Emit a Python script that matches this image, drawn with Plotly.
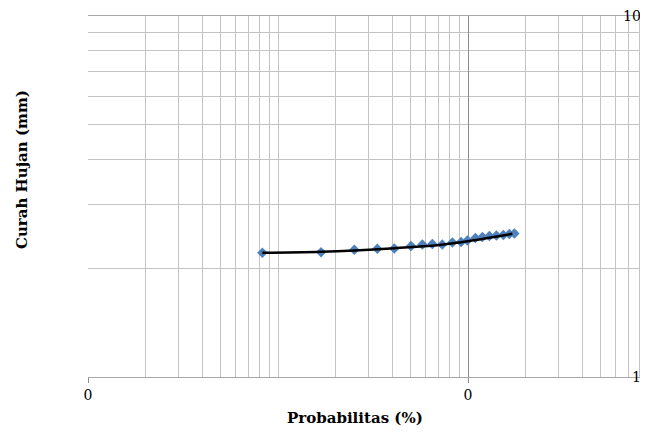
import math
import plotly.graph_objects as go

# Observed data (blue diamonds)
prob = [0.00827, 0.01684, 0.02521, 0.0333, 0.0409, 0.0501, 0.0575, 0.0649, 0.0732,
        0.0827, 0.0919, 0.0992, 0.1093, 0.119, 0.1295, 0.141, 0.1534, 0.165, 0.1753]
rain = [2.208, 2.217, 2.251, 2.265, 2.270, 2.306, 2.328, 2.335, 2.328,
        2.358, 2.366, 2.388, 2.427, 2.443, 2.458, 2.466, 2.474, 2.490, 2.498]

# Fitted line (black)
fit_prob = [0.00827, 0.01684, 0.0409, 0.0706, 0.1053, 0.1711]
fit_rain = [2.208, 2.223, 2.274, 2.321, 2.388, 2.493]

x_tickvals = [0.001, 0.1]
x_ticktext = ["0", "0"]
y_tickvals = [1, 10]
y_ticktext = ["1", "10"]

x_minor = [k * 10.0 ** d for d in range(-3, 1) for k in range(1, 10)
           if not (k == 1 and d in (-3, -1))]
y_minor = [k for k in range(2, 10)]

fig = go.Figure()
fig.add_trace(go.Scatter(x=prob, y=rain, mode="markers",
                         marker=dict(symbol="diamond", size=8, color="#4F81BD"),
                         showlegend=False))
fig.add_trace(go.Scatter(x=fit_prob, y=fit_rain, mode="lines",
                         line=dict(color="black", width=2.5, shape="spline"),
                         showlegend=False))

serif = "DejaVu Serif"
# y tick labels drawn as annotations just inside the right edge
y_labels = [dict(text=t, xref="paper", yref="y", x=(643 - 88) / 560, y=math.log10(v),
                 showarrow=False, xanchor="right", yanchor="middle",
                 font=dict(size=14, family=serif, color="black"))
            for v, t in zip(y_tickvals, y_ticktext)]

# page body has an 8px margin: figure is 640x424 so that it fills the 648x432 window
fig.update_layout(
    width=640, height=424,
    margin=dict(l=80, r=0, t=8, b=55),
    paper_bgcolor="white", plot_bgcolor="white",
    font=dict(family=serif, color="black"),
    xaxis=dict(type="log", range=[-3, -0.053], automargin=False,
               tickvals=x_tickvals, ticktext=x_ticktext,
               showgrid=True, gridcolor="#8c8c8c", gridwidth=1,
               ticks="outside", ticklen=5, tickcolor="#8c8c8c",
               tickfont=dict(size=14, family=serif, color="black"),
               showline=True, mirror=True, linecolor="#a8a8a8", linewidth=1,
               minor=dict(tickvals=x_minor, showgrid=True, gridcolor="#c4c4c4",
                          gridwidth=1, ticks=""),
               zeroline=False),
    yaxis=dict(type="log", range=[0, 1], automargin=False,
               showticklabels=False, ticks="", tickvals=y_tickvals,
               showgrid=True, gridcolor="#b4b4b4", gridwidth=1,
               minor=dict(tickvals=y_minor, showgrid=True, gridcolor="#c4c4c4",
                          gridwidth=1, ticks=""),
               showline=False, zeroline=False),
    annotations=y_labels + [
        dict(text="<b>Probabilitas (%)</b>", xref="paper", yref="paper",
             x=(355 - 88) / 560, y=-(418 - 377) / 361, showarrow=False,
             font=dict(size=15, family=serif, color="black"),
             xanchor="center", yanchor="middle"),
        dict(text="<b>Curah Hujan (mm)</b>", xref="paper", yref="paper",
             x=-(88 - 22) / 560, y=(377 - 170) / 361, showarrow=False, textangle=-90,
             font=dict(size=15, family=serif, color="black"),
             xanchor="center", yanchor="middle"),
    ],
)

fig.write_html("out.html")
